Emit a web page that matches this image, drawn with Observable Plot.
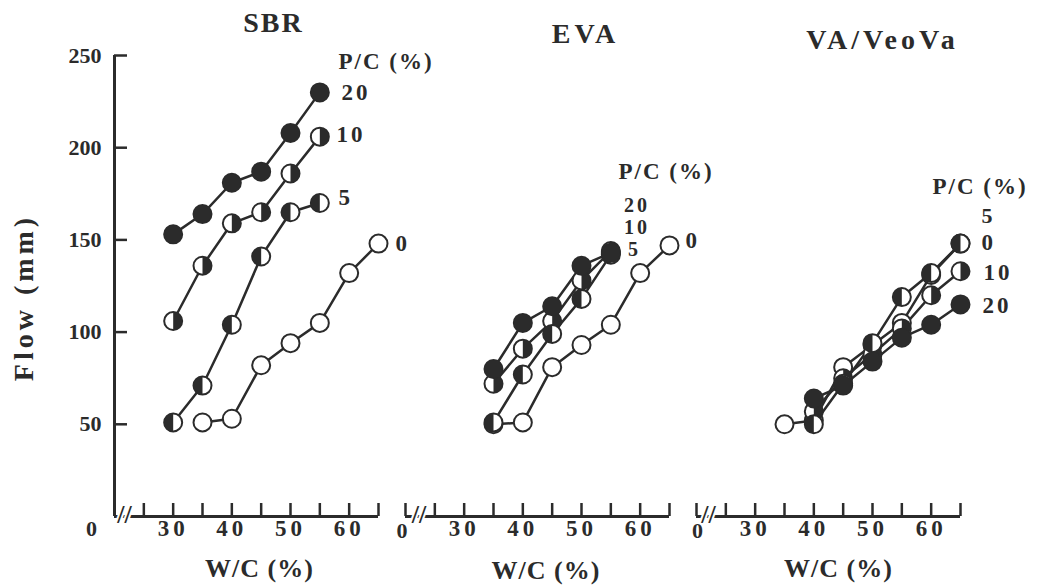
<!DOCTYPE html>
<html><head><meta charset="utf-8">
<script src="https://cdn.jsdelivr.net/npm/d3@7"></script>
<script src="https://cdn.jsdelivr.net/npm/@observablehq/plot@0.6"></script>
<style>
html,body{margin:0;padding:0;background:#fff;}
#chart{width:1040px;height:588px;}
</style></head><body><div id="chart"></div>
<script>
// ---------- data ----------
const panels = ["SBR", "EVA", "VA/VeoVa"];
const xTicks = [20, 25, 30, 35, 40, 45, 50, 55, 60, 65];
const xTickLabels = [30, 40, 50, 60];
const yTicks = [50, 100, 150, 200, 250];

// SBR
const sbrWc0 = [35, 40, 45, 50, 55, 60, 65];
const sbrFlow0 = [51, 53, 82, 94, 105, 132, 148];
const sbrWc = [30, 35, 40, 45, 50, 55];
const sbrFlow5 = [51, 71, 104, 141, 165, 170];
const sbrFlow10 = [106, 136, 159, 165, 186, 206];
const sbrFlow20 = [153, 164, 181, 187, 208, 230];

// EVA
const evaWc0 = [35, 40, 45, 50, 55, 60, 65];
const evaFlow0 = [50, 51, 81, 93, 104, 132, 147];
const evaWc = [35, 40, 45, 50, 55];
const evaFlow5 = [51, 77, 99, 118, 142];
const evaFlow10 = [72, 91, 106, 128, 144];
const evaFlow20 = [80, 105, 114, 136, 143];

// VA/VeoVa
const vaWc0 = [35, 40, 45, 50, 55, 60, 65];
const vaFlow0 = [50, 52, 81, 93, 105, 131, 148];
const vaWc = [40, 45, 50, 55, 60, 65];
const vaFlow5 = [50, 72, 94, 119, 132, 148];
const vaFlow10 = [57, 75, 88, 102, 120, 133];
const vaFlow20 = [64, 71, 84, 97, 104, 115];

// ---------- table ----------
const rows = [];
function addSeries(panel, pc, wc, flow) {
  wc.forEach((w, i) => rows.push({panel, pc, wc: w, flow: flow[i]}));
}
addSeries("SBR", 0, sbrWc0, sbrFlow0);
addSeries("SBR", 5, sbrWc, sbrFlow5);
addSeries("SBR", 10, sbrWc, sbrFlow10);
addSeries("SBR", 20, sbrWc, sbrFlow20);
addSeries("EVA", 0, evaWc0, evaFlow0);
addSeries("EVA", 5, evaWc, evaFlow5);
addSeries("EVA", 10, evaWc, evaFlow10);
addSeries("EVA", 20, evaWc, evaFlow20);
addSeries("VA/VeoVa", 0, vaWc0, vaFlow0);
addSeries("VA/VeoVa", 5, vaWc, vaFlow5);
addSeries("VA/VeoVa", 10, vaWc, vaFlow10);
addSeries("VA/VeoVa", 20, vaWc, vaFlow20);

// ---------- style ----------
const ink = "#2b2b2b";
const R = 9;
const halfLeft = {draw(ctx, size) {
  const r = Math.sqrt(size / Math.PI);
  ctx.moveTo(0, -r); ctx.arc(0, 0, r, -Math.PI / 2, Math.PI / 2, true); ctx.closePath();
}};
const halfRight = {draw(ctx, size) {
  const r = Math.sqrt(size / Math.PI);
  ctx.moveTo(0, -r); ctx.arc(0, 0, r, -Math.PI / 2, Math.PI / 2, false); ctx.closePath();
}};

function seriesMarks(pc, fillSymbol) {
  const d = rows.filter(r => r.pc === pc);
  const m = [Plot.dot(d, {x: "wc", y: "flow", fx: "panel", r: R, fill: "white", stroke: ink, strokeWidth: 2})];
  if (fillSymbol) m.push(Plot.dot(d, {x: "wc", y: "flow", fx: "panel", r: R, symbol: fillSymbol, fill: ink}));
  return m;
}

// annotation layout: [panel, text, dx, dy, anchor, size, rotate]
const notes = [
  ["SBR", "SBR", 159, -32, "middle", 28],
  ["SBR", "P/C (%)", 224, 6, "start", 23],
  ["SBR", "20", 227, 37, "start", 23],
  ["SBR", "10", 222, 79, "start", 23],
  ["SBR", "5", 224, 142, "start", 23],
  ["SBR", "0", 281, 188, "start", 23],
  ["SBR", "0", -23, 473, "middle", 22],
  ["SBR", "W/C (%)", 145, 513, "middle", 26],
  ["SBR", "Flow (mm)", -90, 242, "middle", 28, -90],
  ["EVA", "EVA", 180, -21, "middle", 28],
  ["EVA", "P/C (%)", 213, 116, "start", 23],
  ["EVA", "20", 218.5, 150, "start", 20],
  ["EVA", "10", 218.5, 172, "start", 20],
  ["EVA", "5", 222.5, 194, "start", 20],
  ["EVA", "0", 280, 185, "start", 23],
  ["EVA", "0", -3.5, 475, "middle", 22],
  ["EVA", "W/C (%)", 140.5, 515, "middle", 26],
  ["VA/VeoVa", "VA/VeoVa", 186, -15, "middle", 28],
  ["VA/VeoVa", "P/C (%)", 236, 131, "start", 23],
  ["VA/VeoVa", "5", 285, 160, "start", 22],
  ["VA/VeoVa", "0", 285, 187, "start", 23],
  ["VA/VeoVa", "10", 287, 217, "start", 23],
  ["VA/VeoVa", "20", 286, 250, "start", 23],
  ["VA/VeoVa", "0", 1, 475, "middle", 22],
  ["VA/VeoVa", "W/C (%)", 142, 513, "middle", 26]
];
const noteMarks = notes.map(([panel, text, dx, dy, anchor, size, rotate]) =>
  Plot.text([{panel, text}], {fx: "panel", text: "text", frameAnchor: "top-left", dx, dy,
    textAnchor: anchor, lineAnchor: "middle", fontSize: size, fontWeight: "bold", fill: ink, rotate: rotate || 0}));

const breakDx = {"SBR": 10, "EVA": 13.5, "VA/VeoVa": 12};
const breakMarks = panels.map(p => Plot.text([{panel: p, text: "//"}], {fx: "panel", text: "text",
  frameAnchor: "bottom-left", dx: breakDx[p], dy: -2, lineAnchor: "middle", textAnchor: "middle",
  fontSize: 26, fontWeight: "bold", fill: ink, stroke: "white", strokeWidth: 4, paintOrder: "stroke"}));

const chart = Plot.plot({
  width: 1040, height: 588,
  marginTop: 55, marginBottom: 72, marginLeft: 113, marginRight: 80,
  style: {fontFamily: "'Liberation Serif', 'Times New Roman', serif", fontWeight: "bold", background: "white", color: ink},
  fx: {domain: panels, axis: null, paddingInner: 0.094, paddingOuter: 0},
  x: {domain: [20, 65]},
  y: {domain: [0, 250]},
  marks: [
    Plot.ruleY([0], {stroke: ink, strokeWidth: 3}),
    Plot.ruleX([{panel: "SBR", wc: 20}], {x: "wc", fx: "panel", stroke: ink, strokeWidth: 3}),
    Plot.axisX({ticks: xTicks, tickSize: -13, text: null, label: null, stroke: ink, strokeWidth: 2.5}),
    Plot.axisX({ticks: xTickLabels, tickSize: 0, tickPadding: 3, label: null, fontSize: 23, fontWeight: "bold", fill: ink}),
    Plot.axisY({ticks: yTicks, tickSize: -13, text: null, label: null, stroke: ink, strokeWidth: 2.5}),
    Plot.axisY({ticks: yTicks, tickSize: 0, tickPadding: 13, label: null, fontSize: 22, fontWeight: "bold", fill: ink}),
    ...breakMarks,
    Plot.line(rows, {x: "wc", y: "flow", z: "pc", fx: "panel", stroke: ink, strokeWidth: 2.5}),
    ...seriesMarks(0, null),
    ...seriesMarks(10, halfRight),
    ...seriesMarks(5, halfLeft),
    ...seriesMarks(20, "circle"),
    ...noteMarks
  ]
});
const spacing = {"Flow (mm)": 4, "P/C (%)": 2, "W/C (%)": 1, "SBR": 2, "EVA": 4, "VA/VeoVa": 4,
  "20": 3, "10": 3};
const xTickSpacing = 4;
d3.select(chart).selectAll("text").each(function() {
  const g = this.closest("[aria-label]");
  const aria = (g && g.getAttribute("aria-label")) || "";
  let s = spacing[this.textContent];
  if (aria.indexOf("x-axis") >= 0) s = xTickSpacing;
  else if (aria.indexOf("y-axis") >= 0) s = 0;
  if (s) this.setAttribute("letter-spacing", s + "px");
});
document.getElementById("chart").appendChild(chart);
</script>
</body></html>
